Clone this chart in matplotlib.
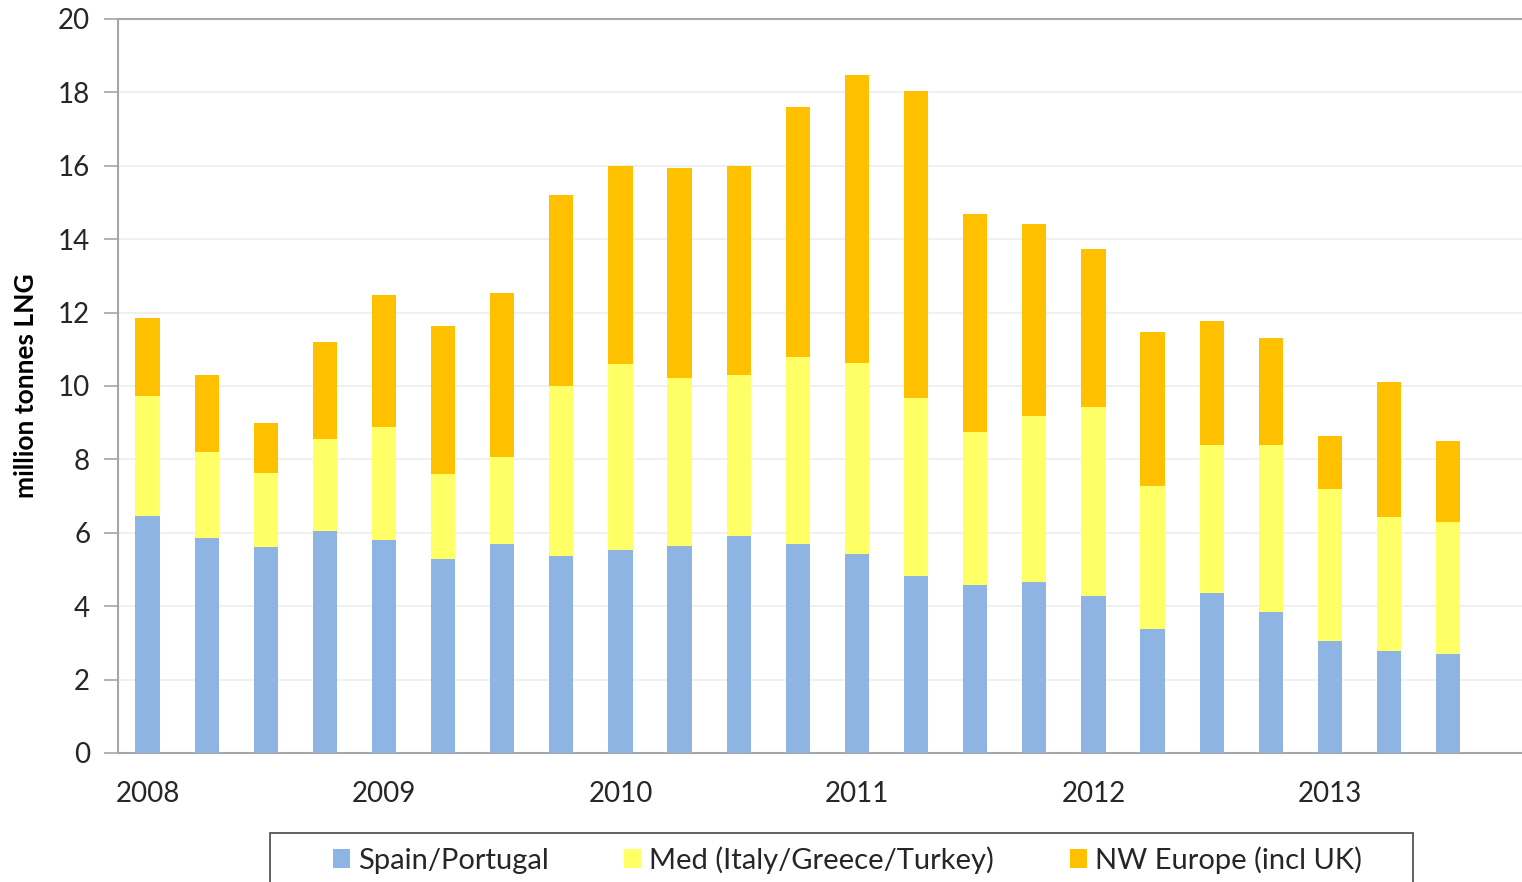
import matplotlib.pyplot as plt
import matplotlib.patches as mpatches
import numpy as np

# quarterly LNG imports, 2008 Q1 .. 2013 Q3 (million tonnes)
spain_portugal = [6.47, 5.86, 5.61, 6.04, 5.81, 5.29, 5.69, 5.38, 5.53, 5.63, 5.91, 5.69,
                  5.41, 4.83, 4.57, 4.66, 4.28, 3.38, 4.35, 3.83, 3.06, 2.79, 2.69]
med = [3.27, 2.33, 2.02, 2.51, 3.07, 2.31, 2.38, 4.63, 5.08, 4.58, 4.38, 5.11,
       5.22, 4.84, 4.17, 4.52, 5.15, 3.90, 4.03, 4.55, 4.13, 3.64, 3.61]
nw_europe = [2.12, 2.12, 1.35, 2.66, 3.60, 4.04, 4.47, 5.19, 5.39, 5.72, 5.71, 6.79,
             7.85, 8.38, 5.95, 5.23, 4.30, 4.18, 3.40, 2.93, 1.45, 3.69, 2.19]
year_labels = ['2008', '2009', '2010', '2011', '2012', '2013']
series_names = ['Spain/Portugal', 'Med (Italy/Greece/Turkey)', 'NW Europe (incl UK)']

plt.rcParams['font.family'] = ['Lato', 'DejaVu Sans']

fig = plt.figure(figsize=(15.22, 8.82), dpi=100)
ax = fig.add_axes([0.0775, 0.1463, 0.9225, 0.8322])

x = np.arange(len(spain_portugal))
bottom2 = np.array(spain_portugal)
bottom3 = bottom2 + np.array(med)
w = 0.41
ax.bar(x, spain_portugal, w, color='#8DB4E2', label=series_names[0], zorder=3)
ax.bar(x, med, w, bottom=bottom2, color='#FFFF66', label=series_names[1], zorder=3)
ax.bar(x, nw_europe, w, bottom=bottom3, color='#FFC000', label=series_names[2], zorder=3)

ax.set_ylim(0, 20)
ax.set_yticks(range(0, 21, 2))
ax.set_xlim(-0.5, 23.25)
ax.set_xticks(range(0, len(x), 4))
ax.set_xticklabels(year_labels)
ax.grid(axis='y', color='#EEEEEE', linewidth=1.2, zorder=0)

for side in ['left', 'top', 'bottom']:
    ax.spines[side].set_color('#A6A6A6')
    ax.spines[side].set_linewidth(1.5)
ax.spines['right'].set_visible(False)
ax.tick_params(axis='y', length=10, width=1.2, color='#A6A6A6', labelsize=20,
               labelcolor='#262626', pad=10)
ax.tick_params(axis='x', length=0, labelsize=20, labelcolor='#262626', pad=20)

ax.set_ylabel('million tonnes LNG', fontsize=19, fontweight='bold', labelpad=14)

# legend without its own frame; box drawn separately so it can run off the bottom edge
leg = fig.legend(loc='center', bbox_to_anchor=(0.5568, 0.0249), ncol=3,
                 fontsize=21, frameon=False, handlelength=0.58,
                 handleheight=0.58, handletextpad=0.28, columnspacing=2.6)
for t in leg.get_texts():
    t.set_color('#262626')
box = mpatches.Rectangle((270 / 1522, -0.02), 1143 / 1522, (882 - 833) / 882 + 0.02,
                         transform=fig.transFigure, fill=False, edgecolor='#555555',
                         linewidth=1.3)
fig.patches.append(box)

fig.savefig('out.png', dpi=100)
